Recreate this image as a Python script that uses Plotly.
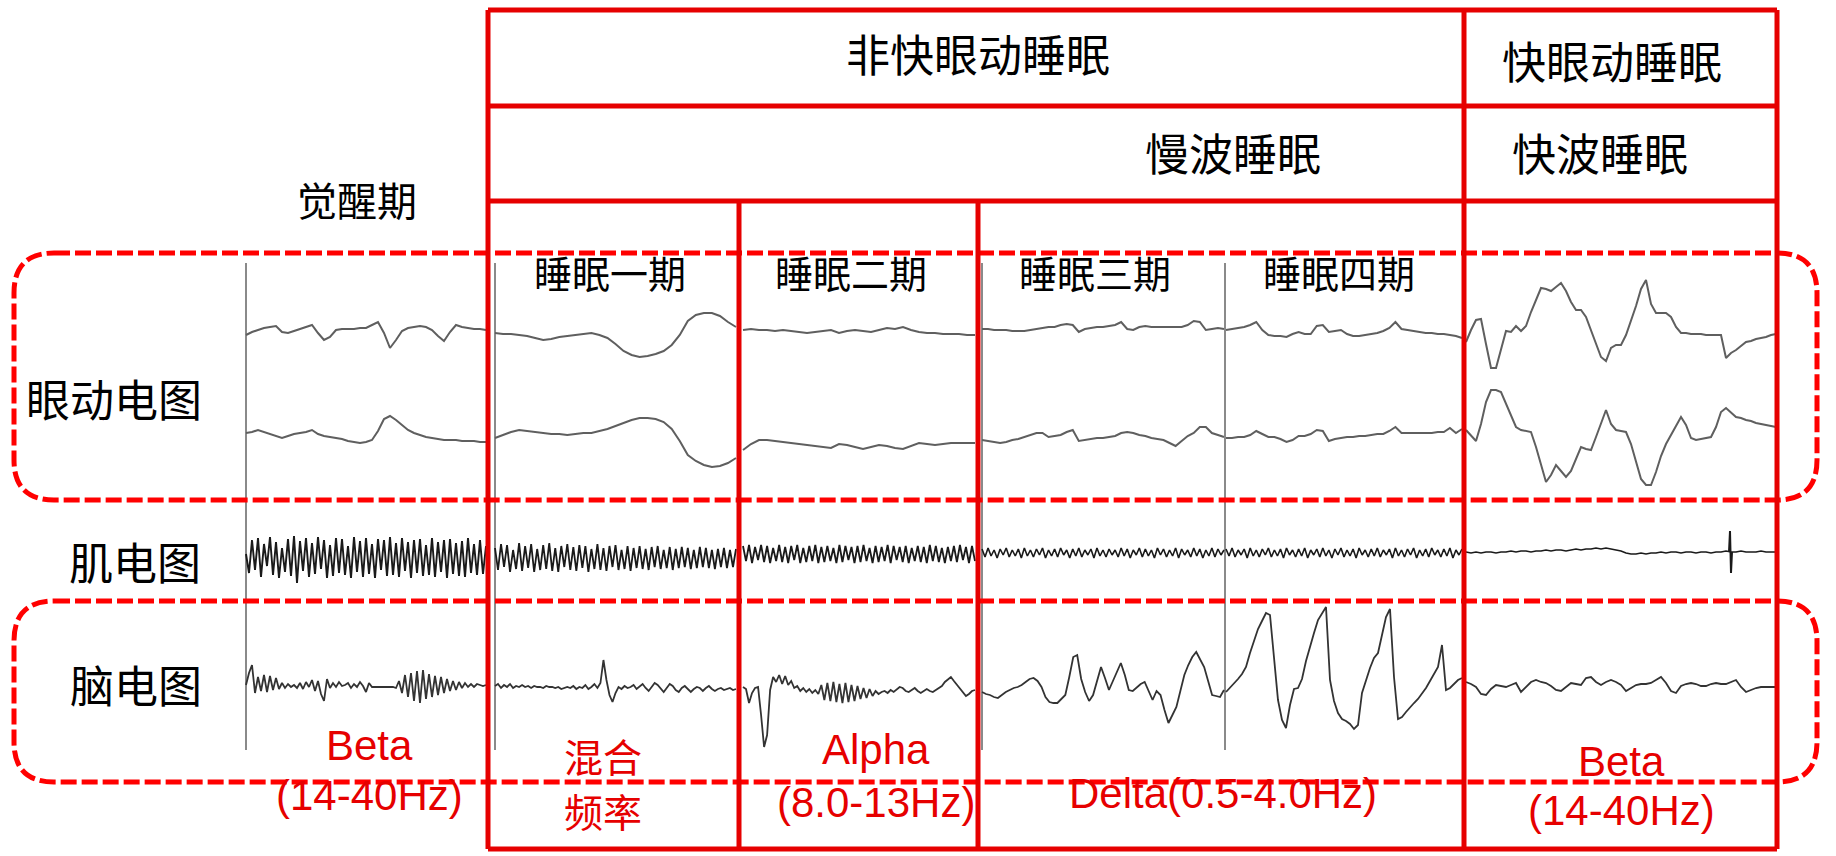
import plotly.graph_objects as go
import numpy as np

# ---------------- data (amplitudes, arbitrary units, + = up) ----------------
stage_names = ["觉醒期", "睡眠一期", "睡眠二期", "睡眠三期", "睡眠四期", "快眼动睡眠"]
channel_names = ["眼动电图", "肌电图", "脑电图"]

eog1_wake = [-4, -1, 1, 3, 4, 5, -1, -2, 0, 2, 4, 6, -2, -9, -6, 1, 2, 2, 2, 3, 3, 6, 9, -2,
             -17, -9, 0, 3, 4, 5, 4, 1, -5, -10, -1, 6, 4, 3, 2, 2, 1]
eog1_s1 = [-2, -3, -3, -4, -5, -7, -9, -8, -6, -5, -4, -3, -2, -4, -7, -13, -20, -24, -26, -25,
           -23, -20, -14, -4, 10, 16, 18, 18, 15, 9, 4]
eog1_s2 = [1, 2, 1, 1, 0, 1, 0, -1, -2, -1, 0, 1, -2, 0, 1, 0, -1, 1, 3, 2, 4, 1, -1, -2, -2,
           -3, -3, -3, -4, -4]
eog1_s3 = [2, 2, 1, 1, 1, 0, 0, 0, 1, 2, 3, 4, 4, 6, 7, 6, -1, 2, 3, 4, 4, 5, 6, 9, 2, 1, 4, 5,
           4, 4, 4, 4, 4, 4, 6, 10, 9, 1, 2, 3, 2]
eog1_s4 = [1, 2, 3, 4, 6, 9, 1, -4, -5, -5, -6, -3, -1, -3, -3, 5, 6, -1, 0, 1, -3, -5, -5, -4,
           -3, -2, 0, 3, 9, 2, 1, 0, -1, -2, -2, -3, -3, -4, -5, -7]
eog1_rem = [-11, 1, 11, 12, -13, -37, -37, -18, 0, -1, 5, 0, 5, 19, 31, 43, 42, 40, 44, 48, 40,
            29, 21, 21, 14, 1, -12, -26, -30, -17, -14, -14, -4, 10, 25, 42, 51, 27, 18, 18, 18,
            14, 4, -2, -2, -3, -3, -3, -4, -4, -4, -4, -27, -22, -19, -15, -11, -10, -8, -7, -6,
            -4, -3]

eog2_wake = [6, 7, 9, 7, 5, 3, 1, 3, 5, 6, 7, 9, 5, 3, 2, 1, 0, -2, -3, -4, -3, -1, 8, 20, 23,
             19, 14, 9, 6, 4, 2, 1, 0, -1, -1, -1, -2, -2, -2, -3, -3]
eog2_s1 = [1, 4, 7, 9, 8, 7, 6, 5, 5, 4, 5, 6, 6, 8, 10, 13, 16, 19, 21, 21, 20, 17, 10, -2,
           -16, -22, -26, -28, -27, -24, -19]
eog2_s2 = [-11, -5, -1, -1, -2, -3, -4, -5, -6, -7, -8, -9, -5, -6, -8, -10, -8, -6, -7, -9,
           -10, -7, -4, -5, -6, -5, -4, -4, -4, -4]
eog2_s3 = [-1, -2, -3, -4, -3, -1, 0, 2, 4, 6, 6, 2, 3, 4, 7, 9, -2, -1, 0, 1, 1, 2, 3, 6, 7,
           6, 4, 3, 1, 0, -1, -4, -7, -2, 3, 6, 12, 12, 6, 4, 2]
eog2_s4 = [1, 1, 2, 2, 4, 8, 5, 2, 2, 0, -3, -1, 3, 3, 5, 9, 8, -2, 0, 1, 2, 2, 3, 3, 4, 5, 5,
           8, 12, 6, 6, 6, 6, 6, 6, 7, 7, 11, 6, 10]
eog2_rem = [9, 4, -2, 15, 37, 49, 49, 47, 35, 24, 12, 9, 8, 7, -8, -26, -43, -36, -26, -32,
            -38, -32, -20, -8, -10, -11, 2, 15, 29, 15, 9, 8, 7, -5, -23, -40, -46, -46, -33,
            -17, -5, 4, 13, 22, 14, 1, -1, 0, 1, 2, 12, 27, 31, 26, 22, 21, 19, 18, 16, 15, 14,
            13, 12]

emg_wake = [4, -15, 18, -12, 20, -19, 14, -8, 21, -17, 16, -20, 10, -14, 19, -18, 22, -25, 17,
            -13, 20, -19, 15, -16, 21, -11, 18, -20, 13, -18, 20, -15, 19, -17, 12, -20, 21,
            -14, 17, -19, 20, -16, 14, -20, 19, -12, 18, -18, 21, -17, 15, -19, 20, -13, 16,
            -20, 18, -15, 19, -18, 13, -17, 20, -19, 16, -14, 18, -20, 19, -16, 15, -18, 17,
            -19, 20, -15, 14, -17, 18, -16, 12]
emg_s1 = [10, -12, 14, -9, 13, -14, 8, -11, 15, -13, 12, -10, 14, -14, 9, -12, 13, -11, 15,
          -13, 10, -14, 12, -9, 14, -12, 11, -13, 13, -10, 12, -14, 9, -11, 14, -12, 10, -13,
          12, -9, 13, -12, 8, -11, 12, -13, 10, -10, 12, -11, 9, -12, 11, -9, 12, -11, 8, -10,
          11, -12, 9, -10, 11, -9, 10, -11, 8, -10, 11, -9, 10, -10, 8, -11, 9, -9, 10, -10, 8,
          -9, 9]
emg_s2 = [12, -3, 13, -5, 11, -2, 13, -4, 12, -5, 10, -3, 13, -4, 11, -5, 12, -2, 13, -5, 10,
          -4, 12, -3, 13, -5, 11, -4, 12, -3, 10, -5, 13, -4, 12, -2, 11, -5, 12, -4, 13, -3,
          10, -5, 12, -4, 11, -3, 13, -5, 12, -2, 11, -4, 12, -5, 10, -3, 12, -4, 11, -5, 13,
          -3, 12, -4, 10, -5, 11, -3, 12, -4, 13, -2, 11, -5, 12, -3]
emg_s3 = [9, 1, 10, 2, 8, 0, 9, 3, 10, 1, 8, 2, 9, 0, 10, 2, 8, 1, 9, 3, 10, 0, 8, 2, 9, 1, 10,
          3, 8, 0, 9, 2, 10, 1, 8, 3, 9, 0, 10, 2, 8, 1, 9, 3, 8, 1, 10, 2, 9, 0, 8, 3, 10, 1, 9,
          2, 8, 0, 10, 3, 9, 1, 8, 2, 10, 0, 9, 3, 8, 1, 10, 2, 9, 0, 8, 2, 10, 1, 9, 3, 8]
emg_s4 = [9, 2, 10, 1, 8, 3, 9, 0, 10, 2, 8, 1, 9, 3, 10, 1, 8, 2, 9, 0, 10, 3, 8, 1, 9, 2, 10,
          0, 8, 3, 9, 1, 10, 2, 8, 0, 9, 3, 10, 1, 8, 2, 9, 0, 10, 3, 8, 1, 9, 2, 10, 1, 8, 3, 9,
          0, 10, 2, 8, 1, 9, 3, 10, 0, 8, 2, 9, 1, 10, 3, 8, 1, 9, 2, 10, 0, 8, 3, 9]
emg_rem = [6, 5, 6, 5, 6, 6, 5, 6, 6, 7, 6, 7, 7, 6, 7, 7, 8, 7, 8, 8, 7, 8, 9, 8, 9, 9, 10, 9,
           10, 9, 8, 7, 5, 4, 4, 5, 4, 5, 5, 6, 5, 6, 6, 5, 6, 6, 5, 6, 6, 5, 6, 6, 7, 6, 6, 7,
           6, 6, 6, 7, 6, 6, 6]
emg_rem_burst = [6, 27, -15, 6]

eeg_wake = [0, 12, 20, -8, 8, -6, 10, -7, 9, -5, 7, -4, 2, -3, 1, -2, 0, -3, 2, -4, 3, -2, 5,
            -6, 4, -9, -16, 6, -3, 2, -2, 3, -1, 0, 2, -3, 1, -2, 3, -1, -7, 2, -2, -2, -2, -2,
            -2, -2, -2, -2, -3, 4, -8, 10, -12, 12, -16, 14, -18, 15, -14, 11, -12, 9, -10, 8,
            -8, 6, -6, 4, -5, 3, -3, 2, -2, 1, -2, 1, 0, -1, 0]
eeg_s1 = [-1, 1, -3, 0, -2, 1, -3, -1, -2, 0, -2, -1, -3, -1, -2, -2, -3, -1, -2, -2, -3, -2,
          -4, -3, -2, -3, -1, -4, -2, -3, 0, -4, -2, 1, -3, 2, 25, 5, -10, -17, -8, -2, -4, -1,
          -3, -2, 0, -4, -1, 1, -3, -6, -2, 2, 0, -4, -7, -3, 1, -1, -5, -7, -3, -1, -4, -7, -4,
          -2, -3, -6, -3, -1, -4, -6, -4, -3, -5, -4, -3, -5, -4]
eeg_s2 = [-2, -4, -18, -8, -3, -2, -30, -62, -50, -5, 8, 3, 10, 1, 9, 0, 4, -3, -1, -6, -3, -7,
          -4, -8, -5, -9, 0, -15, 2, -16, 3, -17, 1, -18, 2, -17, 0, -16, -1, -14, -3, -13, -4,
          -11, -6, -9, -7, -6, -8, -5, -7, -4, -2, -3, -6, -7, -5, -3, -6, -8, -6, -4, -6, -7,
          -5, -3, -1, 3, 6, 8, 4, 0, -4, -8, -11, -9, -6, -5]
eeg_s3 = [-7, -9, -10, -12, -13, -10, -7, -5, -3, -2, 0, 3, 6, 7, 4, -2, -12, -17, -18, -18,
          -14, -10, 8, 28, 30, 6, -7, -16, -10, 4, 18, 7, -5, 4, 14, 22, 10, -5, -6, -2, 1, 3,
          -6, -15, -6, -10, -25, -38, -30, -22, -6, 10, 20, 28, 33, 25, 18, 4, -10, -11, -12, -5]
eeg_s4 = [-7, -3, 1, 6, 11, 18, 32, 45, 56, 64, 72, 70, 25, -15, -35, -43, -20, -4, -3, 6, 24,
          39, 52, 65, 71, 78, 5, -16, -28, -34, -36, -39, -44, -40, -8, 5, 17, 27, 32, 50, 68,
          76, 8, -34, -32, -27, -22, -18, -14, -9, -3, 4, 11, 18, 40, -5, -3, 1, 5, 7]
eeg_rem = [3, 1, -2, -9, -10, -4, 0, -1, -2, 0, 2, -7, -2, 3, 5, 3, 2, -1, -5, -6, -2, 2, 1, 0,
           7, 8, 3, 0, 3, 5, 3, 0, -6, -3, 0, 1, 1, 2, 5, 8, 2, -6, -8, -1, 1, 2, 1, -1, -1, 1,
           2, 1, 1, 3, 5, -2, -7, -5, -3, -2, -2, -2, -2]

band_labels = [
    ("Beta", 369, 745), ("(14-40Hz)", 369, 795),
    ("混合", 603, 755), ("频率", 603, 810),
    ("Alpha", 876, 749), ("(8.0-13Hz)", 876, 802),
    ("Delta(0.5-4.0Hz)", 1223, 793),
    ("Beta", 1621, 761), ("(14-40Hz)", 1621, 810),
]

# ---------------- layout geometry ----------------
W, H = 1836, 856
RED = "#E60000"
DRED = "#FF0000"

seg_x = {"wake": (246, 486), "s1": (495, 736), "s2": (743, 975),
         "s3": (982, 1224), "s4": (1226, 1462), "rem": (1466, 1776)}

# channel rows: baseline pixel, half-height in units (1 unit ~ 1 px)
rows = {"eog1": (331, 62, "y2"), "eog2": (439, 62, "y3"),
        "emg": (558, 32, "y4"), "eeg": (685, 92, "y5")}

fig = go.Figure()


def add_seg(vals, seg, row, color, width, span=None):
    x0, x1 = span if span else seg_x[seg]
    xs = np.linspace(x0, x1, len(vals))
    fig.add_trace(go.Scatter(x=xs, y=vals, mode="lines", xaxis="x", yaxis=rows[row][2],
                             line=dict(color=color, width=width), hoverinfo="skip",
                             showlegend=False))


EOGC, EMGC, EEGC = "#5f5f5f", "#1a1a1a", "#333333"
for seg, v in zip(seg_x, [eog1_wake, eog1_s1, eog1_s2, eog1_s3, eog1_s4, eog1_rem]):
    add_seg(v, seg, "eog1", EOGC, 2)
for seg, v in zip(seg_x, [eog2_wake, eog2_s1, eog2_s2, eog2_s3, eog2_s4, eog2_rem]):
    add_seg(v, seg, "eog2", EOGC, 2)
for seg, v, w in zip(seg_x, [emg_wake, emg_s1, emg_s2, emg_s3, emg_s4, emg_rem],
                     [1.9, 1.8, 1.8, 1.6, 1.6, 1.6]):
    add_seg(v, seg, "emg", EMGC, w)
add_seg(emg_rem_burst, "rem", "emg", EMGC, 2, span=(1729, 1732))
for seg, v in zip(seg_x, [eeg_wake, eeg_s1, eeg_s2, eeg_s3, eeg_s4, eeg_rem]):
    add_seg(v, seg, "eeg", EEGC, 1.8)

shapes = []
# grey recording separators
for gx in [246, 495, 982, 1225]:
    shapes.append(dict(type="line", xref="x", yref="y", x0=gx, x1=gx, y0=263, y1=750,
                       line=dict(color="#8a8a8a", width=2), layer="below"))


def rrect(x0, y0, x1, y1, r):
    return (f"M {x0+r},{y0} L {x1-r},{y0} Q {x1},{y0} {x1},{y0+r} L {x1},{y1-r} "
            f"Q {x1},{y1} {x1-r},{y1} L {x0+r},{y1} Q {x0},{y1} {x0},{y1-r} "
            f"L {x0},{y0+r} Q {x0},{y0} {x0+r},{y0} Z")


for (y0, y1) in [(253, 500), (601, 782)]:
    shapes.append(dict(type="path", xref="x", yref="y", path=rrect(14, y0, 1817, y1, 40),
                       line=dict(color=DRED, width=5, dash="16px,5px"), layer="above"))

# table (solid red)
TL, TR, TT, TB = 488, 1777, 10, 849
tbl = [
    (TL, TT, TR, TT), (TL, TB, TR, TB), (TL, TT, TL, TB), (TR, TT, TR, TB),
    (TL, 106, TR, 106), (TL, 201, TR, 201),
    (1464, TT, 1464, TB), (739, 201, 739, TB), (978, 201, 978, TB),
]
for x0, y0, x1, y1 in tbl:
    shapes.append(dict(type="line", xref="x", yref="y", x0=x0, y0=y0, x1=x1, y1=y1,
                       line=dict(color=RED, width=5), layer="above"))

CJK = "Noto Sans CJK SC"
ann = []


def txt(s, x, y, size, color="black", family=CJK):
    ann.append(dict(text=s, x=x, y=y, xref="x", yref="y", showarrow=False,
                    xanchor="center", yanchor="middle",
                    font=dict(family=family, size=size, color=color)))


txt("非快眼动睡眠", 978, 53, 44)
txt("快眼动睡眠", 1612, 60, 44)
txt("慢波睡眠", 1233, 152, 44)
txt("快波睡眠", 1600, 152, 44)
txt(stage_names[0], 357, 199, 40)
for s, cx in zip(stage_names[1:5], [610, 851, 1095, 1339]):
    txt(s, cx, 271, 38)
txt(channel_names[0], 114, 398, 44)
txt(channel_names[1], 135, 561, 44)
txt(channel_names[2], 136, 684, 44)
for s, x, y in band_labels:
    if any(ord(c) > 0x3000 for c in s):
        txt(s, x, y, 39, RED)
    else:
        txt(s, x, y, 42, RED, "Liberation Sans")

layout = dict(
    width=W, height=H, margin=dict(l=0, r=0, t=0, b=0),
    paper_bgcolor="white", plot_bgcolor="rgba(0,0,0,0)",
    xaxis=dict(range=[0, W], visible=False, fixedrange=True, domain=[0, 1]),
    yaxis=dict(range=[H, 0], visible=False, fixedrange=True, domain=[0, 1]),
    shapes=shapes, annotations=ann, showlegend=False,
)
for name, (base, half, yref) in rows.items():
    key = "yaxis" + yref[1:]
    layout[key] = dict(range=[-half, half], visible=False, fixedrange=True, anchor="x",
                       domain=[1 - (base + half) / H, 1 - (base - half) / H])
fig.update_layout(**layout)
fig.write_html("out.html")
